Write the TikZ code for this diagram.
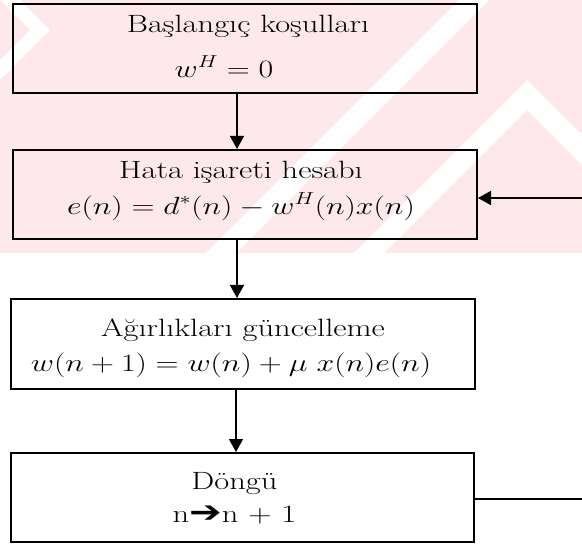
\documentclass[tikz,border=0pt]{standalone}
\usepackage{fontspec}
\newfontfamily\djvsans{DejaVu Sans}
\usetikzlibrary{arrows.meta}
\definecolor{wmpink}{RGB}{253,232,236}
\newcommand\hstretch[1]{\scalebox{1.28}[1]{#1}}
\newcommand\tstretch[1]{\scalebox{1.3}[1]{\fontsize{25}{30}\selectfont #1}}
\begin{document}
\begin{tikzpicture}[x=1pt,y=-1pt,
  box/.style={draw=black, line width=2pt, inner sep=0pt},
  lbl/.style={inner sep=0pt, anchor=base, font=\fontsize{24}{29}\selectfont},
  flow/.style={line width=1.6pt, -{Triangle[length=13pt,width=14pt]}}]
\useasboundingbox (0,0) rectangle (582,544);
\clip (0,0) rectangle (582,544);
% watermark band
\begin{scope}
  \clip (0,0) rectangle (582,253);
  \fill[wmpink] (0,0) rectangle (582,253);
  \fill[white] (459,0) -- (489,0) -- (236,253) -- (206,253) -- cycle;
  \fill[white] (0,-20) -- (50,30) -- (0,80) -- (0,60) -- (30,30) -- (0,0) -- cycle;
  \fill[white] (527,80) -- (700,253) -- (670,253) -- (527,110) -- (384,253) -- (354,253) -- cycle;
\end{scope}
% boxes
\node[box, minimum width=464pt, minimum height=89pt]   (b1) at (245,48.5)  {};
\node[box, minimum width=464pt, minimum height=89.5pt] (b2) at (245,194.7) {};
\node[box, minimum width=464pt, minimum height=90.5pt] (b3) at (243,344.2) {};
\node[box, minimum width=463pt, minimum height=89pt]   (b4) at (242.5,497.5) {};
% labels
\node[lbl] (t1a) at ([xshift=3pt,yshift=16.5pt]b1.center) {\tstretch{Başlangıç koşulları}};
\node[lbl] (t1b) at ([xshift=-21pt,yshift=-28.5pt]b1.center) {\hstretch{$w^{H} = 0$}};
\node[lbl] (t2a) at ([xshift=-4pt,yshift=16.7pt]b2.center) {\tstretch{Hata işareti hesabı}};
\node[lbl] (t2b) at ([xshift=-4pt,yshift=-19.3pt]b2.center) {\hstretch{$e(n) = d^{*}(n) - w^{H}(n)x(n)$}};
\node[lbl] (t3a) at ([xshift=0pt,yshift=8pt]b3.center) {\tstretch{Ağırlıkları güncelleme}};
\node[lbl] (t3b) at ([xshift=-12pt,yshift=-27pt]b3.center) {\hstretch{$w(n+1) = w(n) + \mu\; x(n)e(n)$}};
\node[lbl] (t4a) at ([xshift=-8pt,yshift=8.5pt]b4.center) {\tstretch{Döngü}};
\node[lbl] (t4b) at ([xshift=-8pt,yshift=-24.5pt]b4.center) {\tstretch{n{\djvsans\fontsize{30}{30}\selectfont ➔}n $+$ 1}};
% connectors
\draw[flow] ([xshift=-8pt]b1.south) -- ([xshift=-8pt]b1.south |- b2.north);
\draw[flow] ([xshift=-8pt]b2.south) -- ([xshift=-8pt]b2.south |- b3.north);
\draw[flow] ([xshift=-7pt]b3.south) -- ([xshift=-7pt]b3.south |- b4.north);
\draw[flow] ([yshift=-1.5pt]b4.east) -- ++(150,0) |- ([yshift=-3.3pt]b2.east);
\end{tikzpicture}
\end{document}
